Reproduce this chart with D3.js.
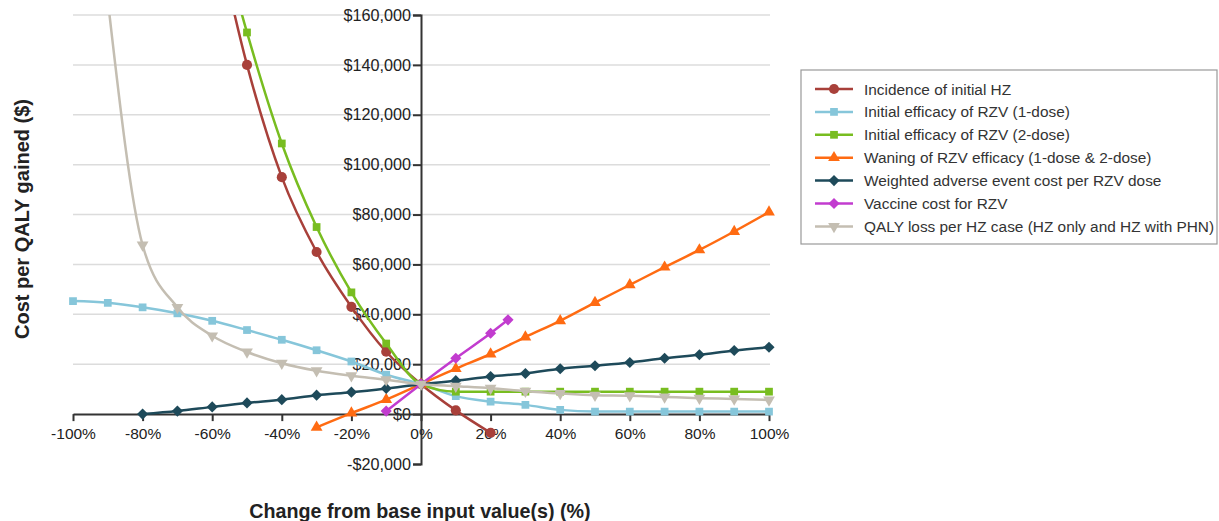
<!DOCTYPE html>
<html><head><meta charset="utf-8">
<script src="https://cdn.jsdelivr.net/npm/d3@7"></script>
<style>
body{margin:0;background:#fff;}
text{font-family:"Liberation Sans",Arial,sans-serif;}
</style></head>
<body><svg id="c" width="1219" height="521"></svg>
<script>
const xTicks = [-100,-80,-60,-40,-20,0,20,40,60,80,100];
const yTicks = [-20000,0,20000,40000,60000,80000,100000,120000,140000,160000];

const seriesNames = [
  "Incidence of initial HZ",
  "Initial efficacy of RZV (1-dose)",
  "Initial efficacy of RZV (2-dose)",
  "Waning of RZV efficacy (1-dose & 2-dose)",
  "Weighted adverse event cost per RZV dose",
  "Vaccine cost for RZV",
  "QALY loss per HZ case (HZ only and HZ with PHN)"
];
const seriesColors = ["#a8403a","#86c6da","#78bd20","#ff6b12","#1e4a5a","#c23ccf","#c4beb2"];
const seriesSymbols = ["circle","square","square","triangle","diamond","diamond","triangleDown"];

const incidenceX = [-60,-50,-40,-30,-20,-10,0,10,20];
const incidenceY = [200000,140000,95000,65000,43000,25000,12000,1500,-7500];

const eff1X = [-100,-90,-80,-70,-60,-50,-40,-30,-20,-10,0,10,20,30,40,50,60,70,80,90,100];
const eff1Y = [45300,44600,42800,40400,37400,33700,29800,25600,21100,15800,12000,7200,5000,3700,1700,1000,1000,1000,1000,1000,1000];

const eff2X = [-60,-50,-40,-30,-20,-10,0,10,20,30,40,50,60,70,80,90,100];
const eff2Y = [205000,153000,108500,75000,48800,28300,12000,9000,9000,9000,9000,9000,9000,9000,9000,9000,9000];

const waningX = [-30,-20,-10,0,10,20,30,40,50,60,70,80,90,100];
const waningY = [-5300,400,5800,12000,18200,24100,30900,37400,44700,51800,58900,65800,73200,81000];

const adverseX = [-80,-70,-60,-50,-40,-30,-20,-10,0,10,20,30,40,50,60,70,80,90,100];
const adverseY = [0,1200,2900,4500,5800,7600,8800,10300,12000,13400,15100,16300,18200,19400,20700,22400,23800,25500,26800];

const vaccineX = [-10,0,10,20,25];
const vaccineY = [1200,12000,22400,32400,37800];

const qalyX = [-90,-80,-70,-60,-50,-40,-30,-20,-10,0,10,20,30,40,50,60,70,80,90,100];
const qalyY = [166000,67800,42800,31400,24900,20400,17400,15400,13800,12000,11200,10400,9200,8300,7600,7400,6900,6400,6100,5700];

const seriesX = [incidenceX,eff1X,eff2X,waningX,adverseX,vaccineX,qalyX];
const seriesY = [incidenceY,eff1Y,eff2Y,waningY,adverseY,vaccineY,qalyY];

const svg = d3.select("#c");
const x = d3.scaleLinear().domain([-100,100]).range([73,769]);
const y = d3.scaleLinear().domain([-20000,160000]).range([464,15]);

svg.append("defs").append("clipPath").attr("id","clip")
  .append("rect").attr("x",0).attr("y",y(160000)).attr("width",1219).attr("height",521);

// gridlines
svg.append("g").selectAll("line").data(yTicks.filter(d=>d>0)).join("line")
  .attr("x1",x(-100)).attr("x2",x(100)+1)
  .attr("y1",d=>y(d)).attr("y2",d=>y(d))
  .attr("stroke","#dcdcdc").attr("stroke-width",1.5);

// y axis
const fmt = d => (d<0?"-$":"$") + d3.format(",")(Math.abs(d));
const yAxis = svg.append("g").attr("transform",`translate(${x(0)},0)`)
  .call(d3.axisLeft(y).tickValues(yTicks).tickFormat(fmt).tickSize(8).tickPadding(2));
yAxis.select(".domain").attr("stroke","#333").attr("stroke-width",2);
yAxis.selectAll(".tick line").attr("stroke","#333").attr("stroke-width",2);
yAxis.selectAll(".tick text").attr("font-size",16.2).attr("fill","#222")
  .style("font-family","'Liberation Sans',Arial,sans-serif");

// x axis
const xAxis = svg.append("g").attr("transform",`translate(0,${y(0)})`)
  .call(d3.axisBottom(x).tickValues(xTicks).tickFormat(d=>d+"%").tickSize(7).tickSizeOuter(0).tickPadding(7));
xAxis.select(".domain").attr("stroke","#333").attr("stroke-width",2);
xAxis.selectAll(".tick line").attr("stroke","#333").attr("stroke-width",2);
xAxis.selectAll(".tick text").attr("font-size",15.5).attr("fill","#222")
  .style("font-family","'Liberation Sans',Arial,sans-serif");

// axis titles
svg.append("text").attr("transform",`translate(29,219) rotate(-90)`)
  .attr("text-anchor","middle").attr("font-size",20).attr("font-weight","bold").attr("fill","#222")
  .text("Cost per QALY gained ($)");
svg.append("text").attr("x",420).attr("y",518)
  .attr("text-anchor","middle").attr("font-size",19.7).attr("font-weight","bold").attr("fill","#222")
  .text("Change from base input value(s) (%)");

const symMap = {circle:d3.symbolCircle,square:d3.symbolSquare,triangle:d3.symbolTriangle,diamond:d3.symbolSquare};
function symbolPath(name){
  if(name==="triangleDown") return d3.symbol().type(d3.symbolTriangle).size(60)();
  const sizes={circle:80,square:60,triangle:60,diamond:62};
  return d3.symbol().type(symMap[name]).size(sizes[name])();
}
function symTransform(name,px,py){
  let t = `translate(${px},${py})`;
  if(name==="triangleDown") t += " rotate(180)";
  if(name==="diamond") t += " rotate(45)";
  return t;
}

const plot = svg.append("g").attr("clip-path","url(#clip)");
const line = d3.line().curve(d3.curveMonotoneX).x(d=>x(d[0])).y(d=>y(d[1]));

seriesNames.forEach((name,i)=>{
  const pts = seriesX[i].map((v,j)=>[v,seriesY[i][j]]);
  const g = plot.append("g");
  g.append("path").datum(pts).attr("d",line).attr("fill","none")
    .attr("stroke",seriesColors[i]).attr("stroke-width",2.5);
  g.selectAll("path.m").data(pts.filter(p=>p[1]<=160000)).join("path").attr("class","m")
    .attr("d",symbolPath(seriesSymbols[i]))
    .attr("transform",p=>symTransform(seriesSymbols[i],x(p[0]),y(p[1])))
    .attr("fill",seriesColors[i]);
});

// legend
const lg = svg.append("g");
lg.append("rect").attr("x",801).attr("y",70).attr("width",416).attr("height",174)
  .attr("fill","#fff").attr("stroke","#999").attr("stroke-width",1.2);
seriesNames.forEach((name,i)=>{
  const yy = 89 + i*22.9;
  lg.append("line").attr("x1",815).attr("x2",853).attr("y1",yy).attr("y2",yy)
    .attr("stroke",seriesColors[i]).attr("stroke-width",2.5);
  lg.append("path").attr("d",symbolPath(seriesSymbols[i]))
    .attr("transform",symTransform(seriesSymbols[i],834,yy))
    .attr("fill",seriesColors[i]);
  lg.append("text").attr("x",864).attr("y",yy+5.5).attr("font-size",15.4).attr("fill","#333").text(name);
});
</script></body></html>
